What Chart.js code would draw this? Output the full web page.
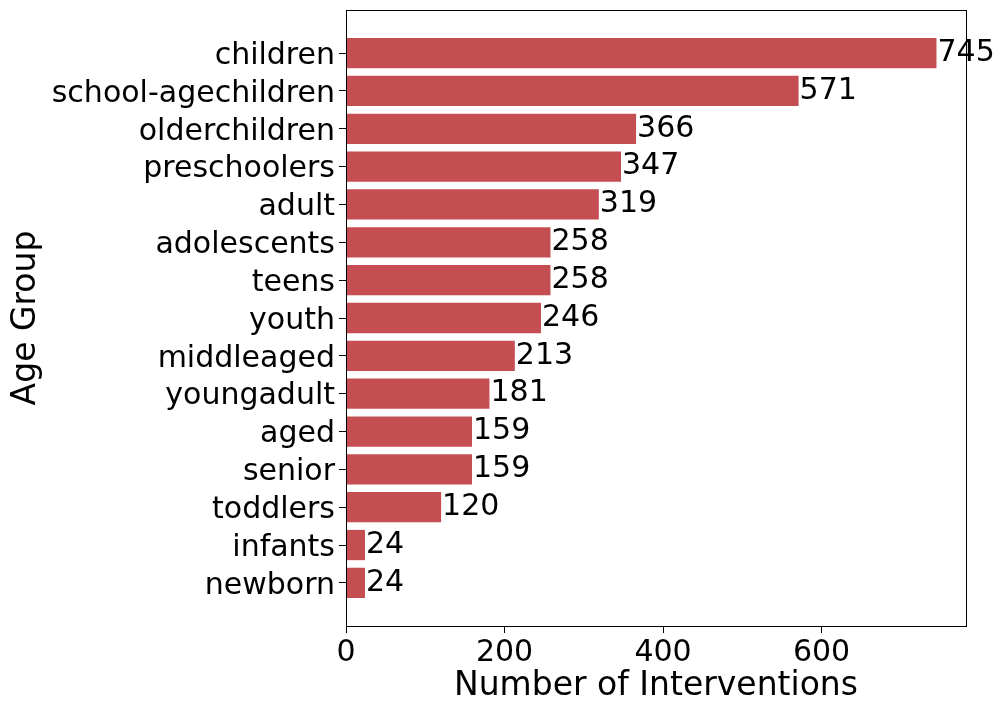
<!DOCTYPE html>
<html>
<head>
<meta charset="utf-8">
<script src="https://cdn.jsdelivr.net/npm/chart.js@4"></script>
<style>
  html, body { margin: 0; padding: 0; background: #fff; }
  #wrap { width: 1005px; height: 713px; }
</style>
</head>
<body>
<div id="wrap"><canvas id="c" width="1005" height="713"></canvas></div>
<script>
const categories = ["children","school-agechildren","olderchildren","preschoolers","adult","adolescents","teens","youth","middleaged","youngadult","aged","senior","toddlers","infants","newborn"];
const values = [745, 571, 366, 347, 319, 258, 258, 246, 213, 181, 159, 159, 120, 24, 24];
const xTicks = [0, 200, 400, 600];
const xMax = 782.25;
const yMin = -1.14, yMax = 15.14;

const FONT = "'DejaVu Sans', sans-serif";
const barColor = '#c44e52';

const valueLabels = {
  id: 'valueLabels',
  afterDatasetsDraw(chart) {
    const ctx = chart.ctx;
    const meta = chart.getDatasetMeta(0);
    ctx.save();
    ctx.font = '30px ' + FONT;
    ctx.fillStyle = '#000';
    ctx.textAlign = 'left';
    ctx.textBaseline = 'middle';
    meta.data.forEach((bar, i) => {
      ctx.fillText(String(values[i]), bar.x + 1, bar.y);
    });
    ctx.restore();
  }
};

const frame = {
  id: 'frame',
  afterDraw(chart) {
    const a = chart.chartArea;
    const ctx = chart.ctx;
    ctx.save();
    ctx.strokeStyle = '#000';
    ctx.lineWidth = 1;
    ctx.strokeRect(Math.round(a.left) + 0.5, Math.round(a.top) + 0.5, Math.round(a.right - a.left), Math.round(a.bottom - a.top));
    ctx.restore();
  }
};

new Chart(document.getElementById('c'), {
  type: 'bar',
  data: {
    datasets: [{
      data: values.map((v, i) => ({ x: v, y: i })),
      backgroundColor: barColor,
      borderWidth: 0,
      barPercentage: 0.8,
      categoryPercentage: 1.0
    }]
  },
  options: {
    indexAxis: 'y',
    responsive: false,
    animation: false,
    layout: { padding: { top: 10, right: 39, bottom: 0, left: 0 } },
    plugins: { legend: { display: false }, tooltip: { enabled: false } },
    scales: {
      x: {
        type: 'linear',
        min: 0,
        max: xMax,
        offset: false,
        afterBuildTicks(scale) { scale.ticks = xTicks.map(v => ({ value: v })); },
        afterFit(scale) { scale.height = 87; scale.paddingLeft = 0; scale.paddingRight = 0; },
        ticks: { font: { family: FONT, size: 30 }, color: '#000', padding: 2, maxRotation: 0 },
        grid: { display: true, drawOnChartArea: false, offset: false, tickLength: 7, color: '#000' },
        border: { display: true, color: '#000' },
        title: { display: true, text: 'Number of Interventions', font: { family: FONT, size: 33 }, color: '#000', padding: { top: 0, bottom: 7 } }
      },
      y: {
        type: 'linear',
        min: yMin,
        max: yMax,
        reverse: true,
        offset: false,
        afterBuildTicks(scale) { scale.ticks = categories.map((c, i) => ({ value: i })); },
        afterFit(scale) { scale.width = 346; scale.paddingTop = 0; scale.paddingBottom = 0; },
        ticks: {
          autoSkip: false,
          font: { family: FONT, size: 30 },
          color: '#000',
          padding: 4,
          labelOffset: 3,
          callback: (v) => categories[v]
        },
        grid: { display: true, drawOnChartArea: false, offset: false, tickLength: 7, color: '#000' },
        border: { display: true, color: '#000' },
        title: { display: true, text: 'Age Group', font: { family: FONT, size: 33 }, color: '#000', padding: { top: 7, bottom: 0 } }
      }
    }
  },
  plugins: [valueLabels, frame]
});
</script>
</body>
</html>
